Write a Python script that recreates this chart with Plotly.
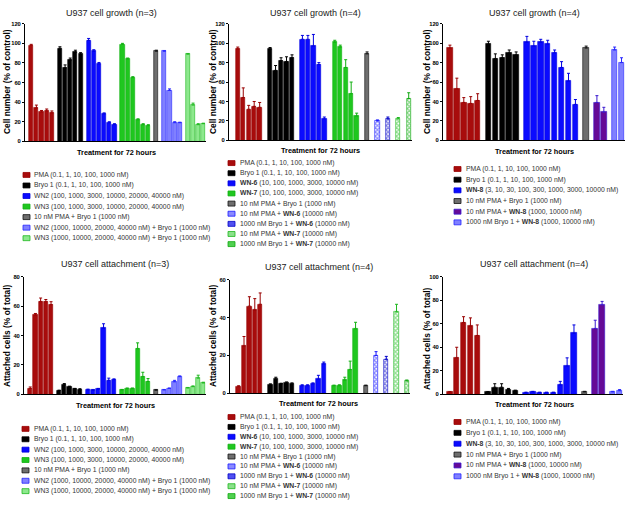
import plotly.graph_objects as go

W, H = 629, 506

# ---------- U937 cell growth (n=3), WN2 / WN3 ----------
g1_pma = [98, 34, 30, 31, 29]
g1_pma_err = [1, 3, 1.5, 2, 2]
g1_bryo = [95, 75, 83, 91, 89]
g1_bryo_err = [1.5, 3, 2, 2, 1.5]
g1_wn2 = [103, 92, 79, 28, 19, 17]
g1_wn2_err = [2, 1.5, 1.5, 1, 1, 1]
g1_wn3 = [99, 84, 65, 22, 17, 16]
g1_wn3_err = [1, 1, 1, 1, 1, 1]
g1_pma_bryo = [92]
g1_pma_bryo_err = [1]
g1_wn2_bryo = [92, 52, 19, 19]
g1_wn2_bryo_err = [0.5, 1.5, 1, 0.5]
g1_wn3_bryo = [89, 37, 17, 18]
g1_wn3_bryo_err = [0.5, 2, 1, 0.5]

# ---------- U937 cell attachment (n=3) ----------
a1_pma = [4, 54, 63, 63, 61]
a1_pma_err = [1, 1, 2.5, 1.5, 2]
a1_bryo = [2.5, 6.5, 5, 3.5, 3.3]
a1_bryo_err = [0.3, 0.8, 0.5, 0.5, 0.5]
a1_wn2 = [3, 2.8, 3.5, 45, 9.5, 10]
a1_wn2_err = [0.5, 0.3, 0.5, 3, 1.5, 0.5]
a1_wn3 = [3, 3.8, 3.8, 31, 12, 8.7]
a1_wn3_err = [0.3, 0.5, 0.5, 4, 3, 2]
a1_pma_bryo = [2.8]
a1_pma_bryo_err = [0.3]
a1_wn2_bryo = [3, 4, 8.5, 12]
a1_wn2_bryo_err = [0.2, 0.3, 1, 0.5]
a1_wn3_bryo = [4.3, 5.2, 11, 7.7]
a1_wn3_bryo_err = [0.3, 0.5, 2, 0.5]

# ---------- U937 cell growth (n=4), WN-6 / WN-7 ----------
g2_pma = [94, 44, 32, 35, 34]
g2_pma_err = [2, 10, 4, 5, 5]
g2_bryo = [94, 72, 82, 81, 85]
g2_bryo_err = [1.5, 5, 3, 5, 3]
g2_wn6 = [104, 104, 97, 78, 22]
g2_wn6_err = [4, 4, 12, 2, 2]
g2_wn7 = [101, 96, 75, 48, 25]
g2_wn7_err = [2, 2, 8, 12, 3]
g2_pma_bryo = [89]
g2_pma_bryo_err = [2]
g2_pma_wn6 = [20]
g2_pma_wn6_err = [1]
g2_bryo_wn6 = [22]
g2_bryo_wn6_err = [2]
g2_pma_wn7 = [22]
g2_pma_wn7_err = [1.5]
g2_bryo_wn7 = [43]
g2_bryo_wn7_err = [6]

# ---------- U937 cell attachment (n=4), WN-6 / WN-7 ----------
a2_pma = [3.5, 25, 46, 44, 47]
a2_pma_err = [0.5, 5, 5, 6, 6]
a2_bryo = [4.5, 7.5, 5, 5.5, 5]
a2_bryo_err = [0.5, 1, 0.3, 0.5, 0.5]
a2_wn6 = [4, 4, 5, 7.5, 15.5]
a2_wn6_err = [0.5, 0.5, 0.5, 2, 1]
a2_wn7 = [4, 4, 7, 12.5, 34]
a2_wn7_err = [0.3, 0.5, 1.5, 4.5, 3.5]
a2_pma_bryo = [4]
a2_pma_bryo_err = [0.3]
a2_pma_wn6 = [20]
a2_pma_wn6_err = [2]
a2_bryo_wn6 = [18]
a2_bryo_wn6_err = [1.5]
a2_pma_wn7 = [43]
a2_pma_wn7_err = [4]
a2_bryo_wn7 = [6.5]
a2_bryo_wn7_err = [0.5]

# ---------- U937 cell growth (n=4), WN-8 ----------
g3_pma = [95, 53, 39, 38, 41]
g3_pma_err = [3, 11, 5, 7, 7]
g3_bryo = [99, 84, 85, 90, 88]
g3_bryo_err = [3, 5, 3, 3, 3]
g3_wn8 = [101, 97, 101, 99, 90, 75, 61, 37]
g3_wn8_err = [6, 5, 3, 4, 3, 6, 8, 5]
g3_pma_bryo = [95]
g3_pma_bryo_err = [2]
g3_pma_wn8 = [39, 29]
g3_pma_wn8_err = [7, 5]
g3_bryo_wn8 = [93, 80]
g3_bryo_wn8_err = [3, 5]

# ---------- U937 cell attachment (n=4), WN-8 ----------
a3_pma = [2, 31, 61, 58, 50]
a3_pma_err = [0.3, 9, 5, 7, 9]
a3_bryo = [2, 6, 6, 4, 3]
a3_bryo_err = [0.3, 3, 3, 1, 0.5]
a3_wn8 = [1.5, 2, 1.5, 1.5, 1.5, 8, 24, 52]
a3_wn8_err = [0.3, 0.5, 0.3, 0.3, 0.3, 3, 7, 7]
a3_pma_bryo = [2]
a3_pma_bryo_err = [0.5]
a3_pma_wn8 = [56, 76]
a3_pma_wn8_err = [7, 3]
a3_bryo_wn8 = [2, 3]
a3_bryo_wn8_err = [0.5, 1]

# legend labels
leg1 = ["PMA (0.1, 1, 10, 100, 1000 nM)",
        "Bryo 1 (0.1, 1, 10, 100, 1000 nM)",
        "WN2 (100, 1000, 3000, 10000, 20000, 40000 nM)",
        "WN3 (100, 1000, 3000, 10000, 20000, 40000 nM)",
        "10 nM PMA + Bryo 1 (1000 nM)",
        "WN2 (1000, 10000, 20000, 40000 nM) + Bryo 1 (1000 nM)",
        "WN3 (1000, 10000, 20000, 40000 nM) + Bryo 1 (1000 nM)"]
leg2 = ["PMA (0.1, 1, 10, 100, 1000 nM)",
        "Bryo 1 (0.1, 1, 10, 100, 1000 nM)",
        "<b>WN-6</b> (10, 100, 1000, 3000, 10000 nM)",
        "<b>WN-7</b> (10, 100, 1000, 3000, 10000 nM)",
        "10 nM PMA + Bryo 1 (1000 nM)",
        "10 nM PMA + <b>WN-6</b> (10000 nM)",
        "1000 nM Bryo 1 + <b>WN-6</b> (10000 nM)",
        "10 nM PMA + <b>WN-7</b> (10000 nM)",
        "1000 nM Bryo 1 + <b>WN-7</b> (10000 nM)"]
leg3 = ["PMA (0.1, 1, 10, 100, 1000 nM)",
        "Bryo 1 (0.1, 1, 10, 100, 1000 nM)",
        "<b>WN-8</b> (3, 10, 30, 100, 300, 1000, 3000, 10000 nM)",
        "10 nM PMA + Bryo 1 (1000 nM)",
        "10 nM PMA + <b>WN-8</b> (1000, 10000 nM)",
        "1000 nM Bryo 1 + <b>WN-8</b> (1000, 10000 nM)"]

# fill, outline, pattern, legend swatch fill
STY = {
    "red": ("#a80c0c", "#980000", "", "#a80c0c"),
    "black": ("#000000", "#000000", "", "#000000"),
    "blue": ("#0b0bff", "#0000e0", "", "#0b0bff"),
    "green": ("#1fc71f", "#10b010", "", "#1fc71f"),
    "gray": ("#6e6e6e", "#111111", "", "#6e6e6e"),
    "lblue": ("#8080ff", "#2424ff", "", "#8080ff"),
    "lgreen": ("#8de88d", "#20b820", "", "#8de88d"),
    "purple": ("#650a96", "#3a1ad0", "", "#650a96"),
    "hblue": ("#2020ff", "#1a1aff", "x", "#8a8aff"),
    "hblue2": ("#0606c8", "#0000c8", "x", "#5050f0"),
    "hgreen": ("#28c028", "#20b820", "x", "#8ae08a"),
    "hgreen2": ("#14b014", "#10a810", "x", "#50d050"),
}

NARROW = "Liberation Sans Narrow, Arial Narrow, Liberation Sans, Arial"
WIDE = "Liberation Sans, Arial"

panels = [
    dict(groups=[(g1_pma, g1_pma_err, "red"), (g1_bryo, g1_bryo_err, "black"),
                 (g1_wn2, g1_wn2_err, "blue"), (g1_wn3, g1_wn3_err, "green"),
                 (g1_pma_bryo, g1_pma_bryo_err, "gray"),
                 (g1_wn2_bryo, g1_wn2_bryo_err, "lblue"),
                 (g1_wn3_bryo, g1_wn3_bryo_err, "lgreen")],
         legend=leg1, gap=0.55, lpad=0.8, rpad=0.5, xd=(25, 206), yd=(21, 140), ymax=120,
         title="U937 cell growth (n=3)", tpos=(111, 10), xt=(116, 151),
         ytitle="Cell number (% of control)", yt=(7, 80), lx=23, ltx=32, ly=174, lsp=10.67),
    dict(groups=[(g2_pma, g2_pma_err, "red"), (g2_bryo, g2_bryo_err, "black"),
                 (g2_wn6, g2_wn6_err, "blue"), (g2_wn7, g2_wn7_err, "green"),
                 (g2_pma_bryo, g2_pma_bryo_err, "gray"),
                 (g2_pma_wn6, g2_pma_wn6_err, "hblue"),
                 (g2_bryo_wn6, g2_bryo_wn6_err, "hblue2"),
                 (g2_pma_wn7, g2_pma_wn7_err, "hgreen"),
                 (g2_bryo_wn7, g2_bryo_wn7_err, "hgreen2")],
         legend=leg2, gap=0.9, lpad=1.2, rpad=0.6, xd=(229, 412), yd=(21, 139), ymax=120,
         title="U937 cell growth (n=4)", tpos=(316, 10), xt=(320, 149),
         ytitle="Cell number (% of control)", yt=(213, 80), lx=228, ltx=238, ly=162, lsp=10.25),
    dict(groups=[(g3_pma, g3_pma_err, "red"), (g3_bryo, g3_bryo_err, "black"),
                 (g3_wn8, g3_wn8_err, "blue"),
                 (g3_pma_bryo, g3_pma_bryo_err, "gray"),
                 (g3_pma_wn8, g3_pma_wn8_err, "purple"),
                 (g3_bryo_wn8, g3_bryo_wn8_err, "lblue")],
         legend=leg3, gap=0.55, lpad=0.6, rpad=0.5, xd=(443, 625), yd=(21, 139), ymax=120,
         title="U937 cell growth (n=4)", tpos=(534, 10), xt=(534, 150),
         ytitle="Cell number (% of control)", yt=(427, 80), lx=454, ltx=464, ly=168, lsp=10.8),
    dict(groups=[(a1_pma, a1_pma_err, "red"), (a1_bryo, a1_bryo_err, "black"),
                 (a1_wn2, a1_wn2_err, "blue"), (a1_wn3, a1_wn3_err, "green"),
                 (a1_pma_bryo, a1_pma_bryo_err, "gray"),
                 (a1_wn2_bryo, a1_wn2_bryo_err, "lblue"),
                 (a1_wn3_bryo, a1_wn3_bryo_err, "lgreen")],
         legend=leg1, gap=0.55, lpad=0.8, rpad=0.5, xd=(24, 206), yd=(277, 396), ymax=80,
         title="U937 cell attachment (n=3)", tpos=(115, 264), xt=(115, 407),
         ytitle="Attached cells (% of total)", yt=(7, 337), lx=22, ltx=32, ly=431, lsp=10.5),
    dict(groups=[(a2_pma, a2_pma_err, "red"), (a2_bryo, a2_bryo_err, "black"),
                 (a2_wn6, a2_wn6_err, "blue"), (a2_wn7, a2_wn7_err, "green"),
                 (a2_pma_bryo, a2_pma_bryo_err, "gray"),
                 (a2_pma_wn6, a2_pma_wn6_err, "hblue"),
                 (a2_bryo_wn6, a2_bryo_wn6_err, "hblue2"),
                 (a2_pma_wn7, a2_pma_wn7_err, "hgreen"),
                 (a2_bryo_wn7, a2_bryo_wn7_err, "hgreen2")],
         legend=leg2, gap=0.9, lpad=1.2, rpad=0.6, xd=(230, 410), yd=(280, 395), ymax=60,
         title="U937 cell attachment (n=4)", tpos=(319, 267), xt=(318, 405),
         ytitle="Attached cells (% of total)", yt=(213, 337), lx=228, ltx=238, ly=419, lsp=10),
    dict(groups=[(a3_pma, a3_pma_err, "red"), (a3_bryo, a3_bryo_err, "black"),
                 (a3_wn8, a3_wn8_err, "blue"),
                 (a3_pma_bryo, a3_pma_bryo_err, "gray"),
                 (a3_pma_wn8, a3_pma_wn8_err, "purple"),
                 (a3_bryo_wn8, a3_bryo_wn8_err, "lblue")],
         legend=leg3, gap=0.55, lpad=0.6, rpad=0.5, xd=(443, 623), yd=(277, 396), ymax=100,
         title="U937 cell attachment (n=4)", tpos=(534, 264), xt=(534, 406),
         ytitle="Attached cells (% of total)", yt=(427, 340), lx=454, ltx=464, ly=424, lsp=11),
]


def px(x):
    return x / W


def py(y):
    return 1 - y / H


fig = go.Figure()
annotations = []
shapes = []
layout = {}

for k, p in enumerate(panels):
    sfx = "" if k == 0 else str(k + 1)
    start = 0.0
    for vals, errs, sty in p["groups"]:
        fill, edge, pat, _ = STY[sty]
        xs = [start + i for i in range(len(vals))]
        start += len(vals) + p["gap"]
        marker = dict(color=fill, line=dict(color=edge, width=0.6))
        if pat:
            marker["color"] = "white"
            marker["pattern"] = dict(shape=pat, fgcolor=fill, bgcolor="white", size=3, solidity=0.65)
        fig.add_trace(go.Bar(
            x=xs, y=vals, width=0.8, marker=marker, showlegend=False, hoverinfo="skip",
            xaxis="x" + sfx, yaxis="y" + sfx,
            error_y=dict(type="data", array=errs, arrayminus=[0] * len(errs), symmetric=False,
                         color=edge, thickness=1, width=1.5),
        ))
    last = start - p["gap"] - 1
    layout["xaxis" + sfx] = dict(domain=[px(p["xd"][0]), px(p["xd"][1])],
                                 range=[-0.4 - p["lpad"], last + p["rpad"]],
                                 anchor="y" + sfx, showline=True, linecolor="black", linewidth=1,
                                 showticklabels=False, ticks="", showgrid=False, zeroline=False)
    layout["yaxis" + sfx] = dict(domain=[py(p["yd"][1]), py(p["yd"][0])],
                                 range=[0, p["ymax"]], dtick=20, anchor="x" + sfx,
                                 showline=True, linecolor="black", linewidth=1,
                                 ticks="outside", ticklen=2, tickwidth=1, tickcolor="black",
                                 tickfont=dict(family=WIDE, size=5.8, color="black", weight="bold"),
                                 showgrid=False, zeroline=False)

    annotations.append(dict(text=p["title"], x=px(p["tpos"][0]), y=py(p["tpos"][1]),
                            xref="paper", yref="paper", showarrow=False,
                            xanchor="center", yanchor="middle",
                            font=dict(family=NARROW, size=9, color="#1a1a1a")))
    annotations.append(dict(text="<b>Treatment for 72 hours</b>", x=px(p["xt"][0]), y=py(p["xt"][1]),
                            xref="paper", yref="paper", showarrow=False,
                            xanchor="center", yanchor="middle",
                            font=dict(family=WIDE, size=7.3, color="black")))
    annotations.append(dict(text="<b>" + p["ytitle"] + "</b>", x=px(p["yt"][0]), y=py(p["yt"][1]),
                            xref="paper", yref="paper", showarrow=False, textangle=-90,
                            xanchor="center", yanchor="middle",
                            font=dict(family=WIDE, size=8.4, color="black")))

    for i, (label, grp) in enumerate(zip(p["legend"], p["groups"])):
        fill, edge, pat, sw = STY[grp[2]]
        ry = p["ly"] + i * p["lsp"]
        shapes.append(dict(type="rect", xref="paper", yref="paper",
                           x0=px(p["lx"]), x1=px(p["lx"] + 7), y0=py(ry + 2.5), y1=py(ry - 2.5),
                           fillcolor=sw, line=dict(color=edge, width=0.8)))
        annotations.append(dict(text=label, x=px(p["ltx"]), y=py(ry),
                                xref="paper", yref="paper", showarrow=False,
                                xanchor="left", yanchor="middle",
                                font=dict(family=NARROW, size=6.8, color="#333333")))

fig.update_layout(**layout)
fig.update_layout(
    width=W, height=H,
    margin=dict(l=0, r=0, t=0, b=0),
    paper_bgcolor="white", plot_bgcolor="white",
    barmode="overlay", bargap=0, showlegend=False, hovermode=False,
    annotations=annotations, shapes=shapes,
)

# drop the default 8px page margin so the figure sits at the window's corner
fig.write_html("out.html", config={"displayModeBar": False},
               post_script="document.body.style.margin = '0';")
